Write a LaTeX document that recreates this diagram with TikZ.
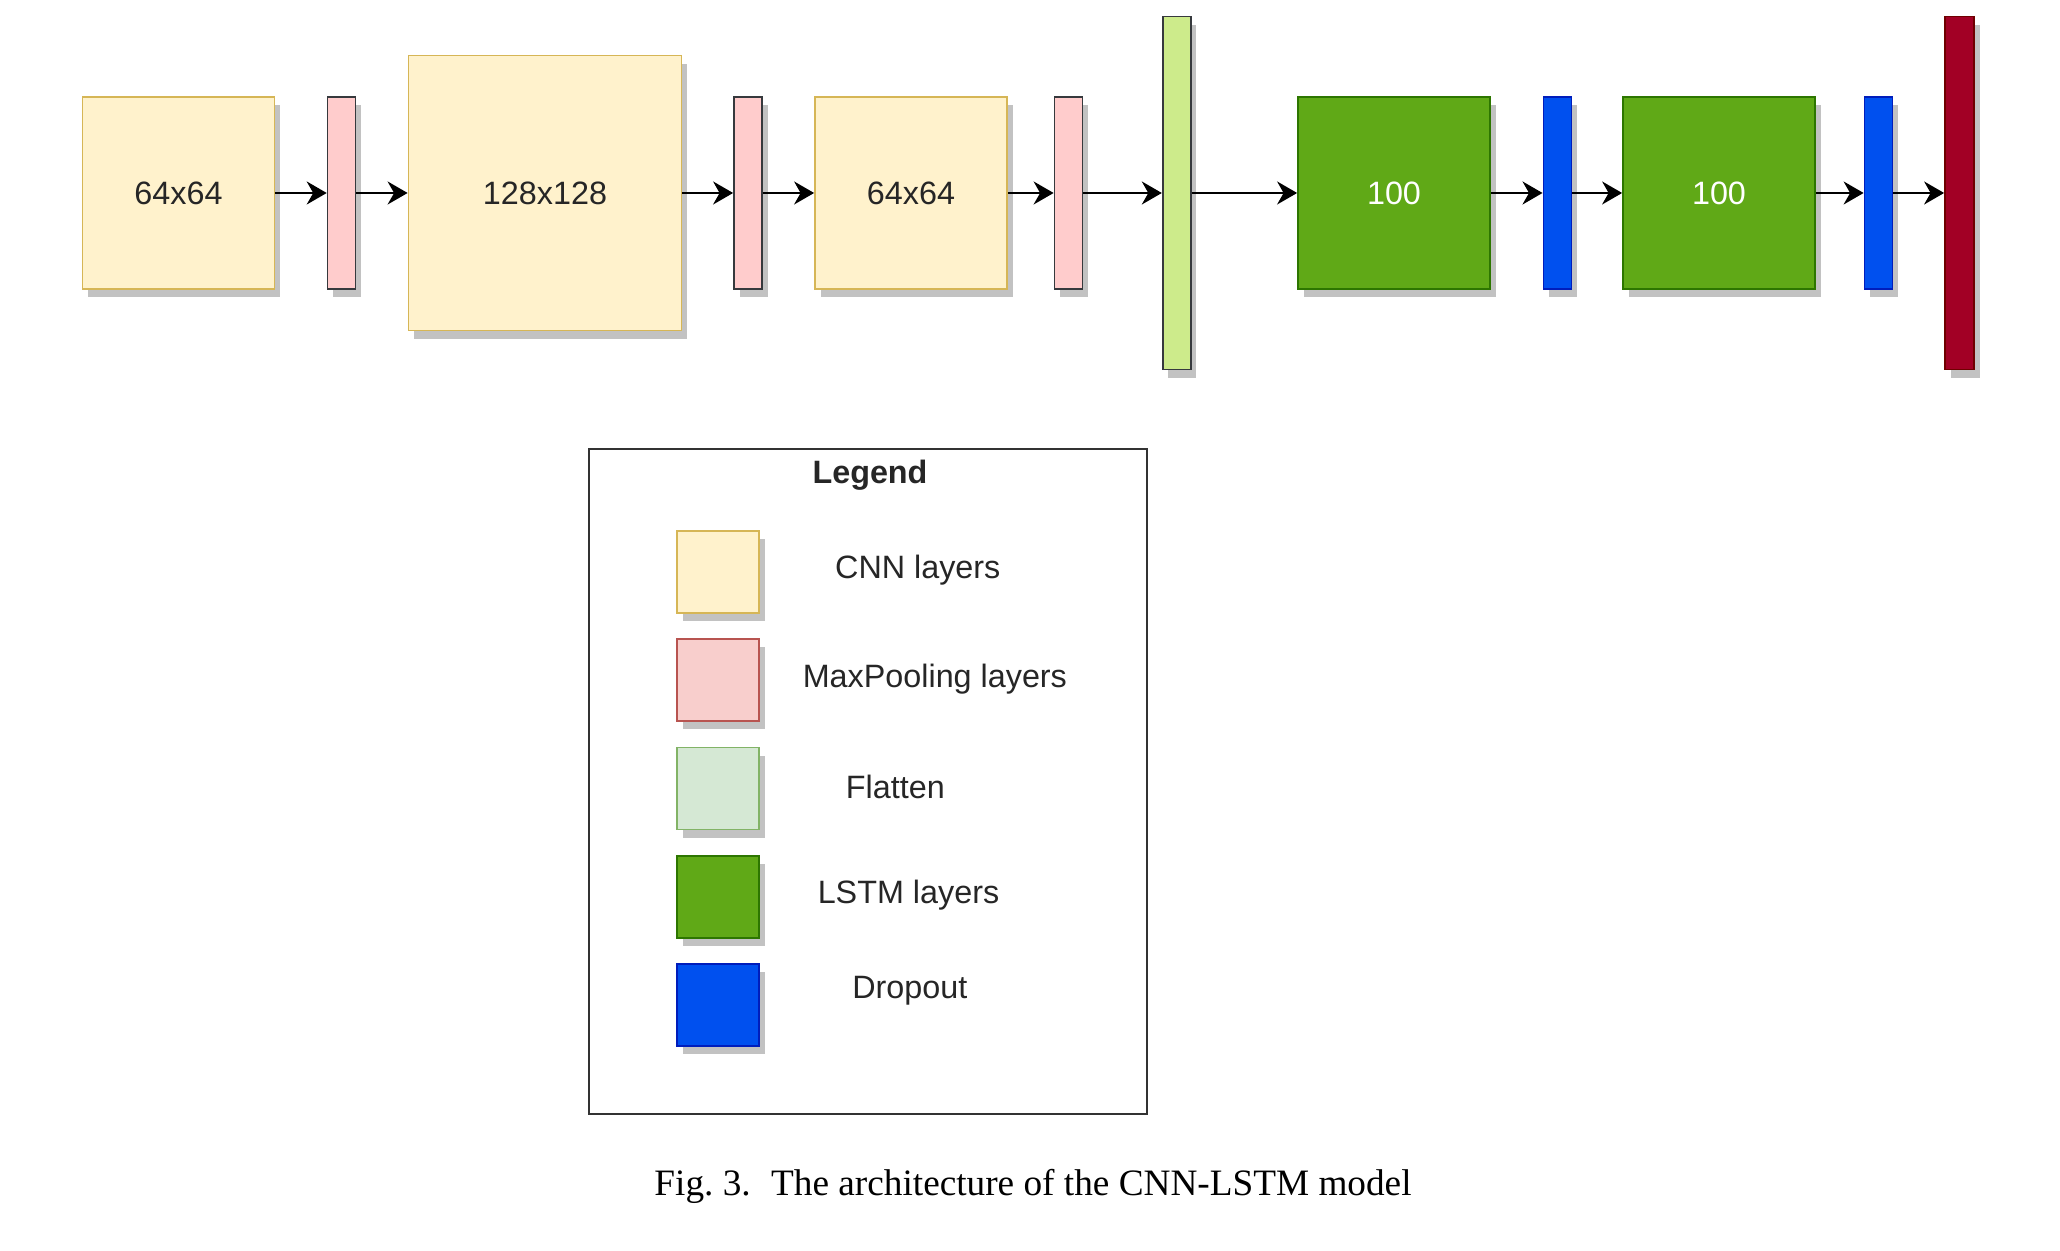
\documentclass[tikz,border=0pt]{standalone}
\usepackage{fontspec}
\setmainfont{Liberation Serif}
\setsansfont{Liberation Sans}
\usetikzlibrary{arrows.meta,shadows}

\definecolor{cnnfill}{HTML}{FFF2CC}
\definecolor{cnndraw}{HTML}{D6B656}
\definecolor{poolfill}{HTML}{FFCCCC}
\definecolor{bardraw}{HTML}{36393D}
\definecolor{flatfill}{HTML}{CDEB8B}
\definecolor{lstmfill}{HTML}{60A917}
\definecolor{lstmdraw}{HTML}{2D7600}
\definecolor{dropfill}{HTML}{0050EF}
\definecolor{dropdraw}{HTML}{001DBC}
\definecolor{outfill}{HTML}{A20025}
\definecolor{outdraw}{HTML}{6F0000}
\definecolor{keypoolfill}{HTML}{F8CECC}
\definecolor{keypooldraw}{HTML}{B85450}
\definecolor{keyflatfill}{HTML}{D5E8D4}
\definecolor{keyflatdraw}{HTML}{82B366}

\tikzset{
  layer/.style={draw, line width=0.5pt, inner sep=0pt,
    font=\sffamily\fontsize{9.2}{11}\selectfont,
    drop shadow={shadow xshift=0.055cm, shadow yshift=-0.084cm, fill=black!24, opacity=1}},
  cnn/.style={layer, fill=cnnfill, draw=cnndraw, text=black!85,
    minimum width=1.92cm, minimum height=1.92cm},
  pool/.style={layer, fill=poolfill, draw=bardraw, minimum width=0.28cm, minimum height=1.92cm},
  flat/.style={layer, fill=flatfill, draw=bardraw, minimum width=0.28cm, minimum height=3.53cm},
  lstm/.style={layer, fill=lstmfill, draw=lstmdraw, text=white,
    minimum width=1.92cm, minimum height=1.92cm},
  drop/.style={layer, fill=dropfill, draw=dropdraw, minimum width=0.28cm, minimum height=1.92cm},
  outbar/.style={layer, fill=outfill, draw=outdraw, minimum width=0.29cm, minimum height=3.53cm},
  key/.style={minimum width=0.82cm, minimum height=0.82cm},
  keytext/.style={font=\sffamily\fontsize{9.2}{11}\selectfont, text=black!85}
}

\begin{document}
\begin{tikzpicture}

        \useasboundingbox (0,0) rectangle (20.6,-12.51);

        % network
        \node[cnn]  (1)  at (1.785,-1.93)  {64x64};
        \node[pool] (2)  at (3.416,-1.93)  {};
        \node[cnn, minimum width=2.73cm, minimum height=2.75cm] (3) at (5.45,-1.93) {128x128};
        \node[pool] (4)  at (7.48,-1.93)   {};
        \node[cnn]  (5)  at (9.11,-1.93)   {64x64};
        \node[pool] (6)  at (10.685,-1.93) {};
        \node[flat] (7)  at (11.767,-1.93) {};
        \node[lstm] (8)  at (13.94,-1.93)  {100};
        \node[drop] (9)  at (15.574,-1.93) {};
        \node[lstm] (10) at (17.19,-1.93)  {100};
        \node[drop] (11) at (18.785,-1.93) {};
        \node[outbar] (12) at (19.595,-1.93) {};

        \begin{scope}[every edge/.style={draw, line width=0.6pt,
            -{Stealth[length=2mm, width=2.3mm, inset=0.65mm]}}]
          \path (1)  edge (2);
          \path (2)  edge (3);
          \path (3)  edge (4);
          \path (4)  edge (5);
          \path (5)  edge (6);
          \path (6)  edge (7);
          \path (7)  edge (8);
          \path (8)  edge (9);
          \path (9)  edge (10);
          \path (10) edge (11);
          \path (11) edge (12);
        \end{scope}

        % legend
        \node[draw=black!80, line width=0.6pt, minimum width=5.58cm, minimum height=6.65cm]
          (legend) at (8.68,-7.815) {};
        \node[font=\sffamily\bfseries\fontsize{9.2}{11}\selectfont, text=black!85]
          (title) at (8.70,-4.754) {Legend};

        \node[cnn, key] (s1) at (7.18,-5.718) {};
        \node[layer, key, fill=keypoolfill, draw=keypooldraw] (s2) at (7.18,-6.801) {};
        \node[layer, key, fill=keyflatfill, draw=keyflatdraw] (s3) at (7.18,-7.884) {};
        \node[lstm, key] (s4) at (7.18,-8.967) {};
        \node[drop, key] (s5) at (7.18,-10.05) {};

        \node[keytext] (t1) at (9.178,-5.705)  {CNN layers};
        \node[keytext] (t2) at (9.349,-6.787)  {MaxPooling layers};
        \node[keytext] (t3) at (8.953,-7.87)   {Flatten};
        \node[keytext] (t4) at (9.085,-8.953)  {LSTM layers};
        \node[keytext] (t5) at (9.098,-9.904)  {Dropout};

        % caption
        \node[font=\fontsize{10.6}{12}\selectfont] (caption) at (10.33,-11.86)
          {Fig.~3.\hspace{0.55em}The architecture of the CNN-LSTM model};

\end{tikzpicture}
\end{document}
